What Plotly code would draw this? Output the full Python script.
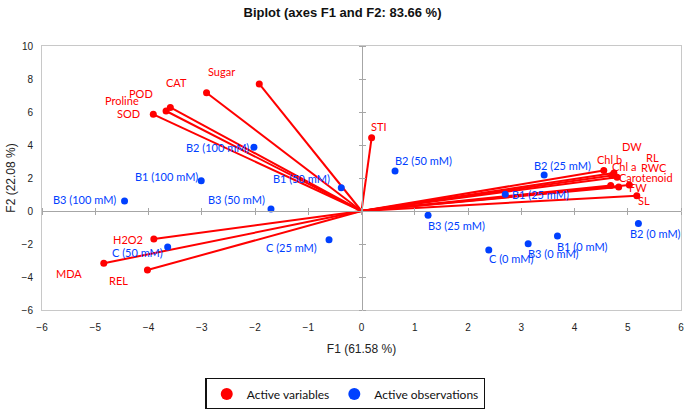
import plotly.graph_objects as go

# variables (loadings scaled to the biplot)
var_names = ["Sugar", "CAT", "POD", "Proline", "SOD", "STI", "H2O2", "MDA", "REL",
             "DW", "Chl b", "Chl a", "RL", "RWC", "Carotenoid", "FW", "SL"]
var_f1 = [-1.92, -2.91, -3.59, -3.67, -3.91, 0.19, -3.90, -4.84, -4.02,
          4.80, 4.55, 4.74, 4.70, 4.68, 4.83, 5.03, 5.17]
var_f2 = [7.70, 7.17, 6.28, 6.06, 5.86, 4.44, -1.70, -3.17, -3.58,
          2.05, 2.46, 2.30, 2.15, 1.54, 1.45, 1.57, 0.93]

# observations
obs_names = ["B1 (100 mM)", "B2 (100 mM)", "B3 (100 mM)", "B1 (50 mM)", "B2 (50 mM)",
             "B3 (50 mM)", "C (50 mM)", "B1 (25 mM)", "B2 (25 mM)", "B3 (25 mM)",
             "C (25 mM)", "B1 (0 mM)", "B2 (0 mM)", "B3 (0 mM)", "C (0 mM)"]
obs_f1 = [-3.01, -2.02, -4.45, -0.38, 0.63, -1.70, -3.64, 2.70, 3.43, 1.25,
          -0.61, 3.68, 5.20, 3.13, 2.39]
obs_f2 = [1.84, 3.86, 0.61, 1.41, 2.42, 0.12, -2.18, 1.01, 2.18, -0.26,
          -1.74, -1.52, -0.75, -1.98, -2.36]

# label placement (pixel offsets: right, down)
var_offsets = {
    "Sugar": (-38, -12), "CAT": (-30, -10), "POD": (-29, -14), "Proline": (-44, -11),
    "SOD": (-25, -1), "STI": (7, -11), "H2O2": (-26, 0), "MDA": (-35, 10),
    "REL": (-29, 10), "DW": (15, -31), "Chl b": (6, -11), "Chl a": (10, -7),
    "RL": (41, -18), "RWC": (43, -18), "Carotenoid": (27, -10), "FW": (9, 2),
    "SL": (7, 5),
}
obs_offsets = {
    "B1 (100 mM)": (-35, -4), "B2 (100 mM)": (-36, 0), "B3 (100 mM)": (-40, -1),
    "B1 (50 mM)": (-40, -9), "B2 (50 mM)": (28, -11), "B3 (50 mM)": (-34, -10),
    "C (50 mM)": (-30, 6), "B1 (25 mM)": (35, 0), "B2 (25 mM)": (18, -10),
    "B3 (25 mM)": (28, 10), "C (25 mM)": (-38, 8), "B1 (0 mM)": (25, 10),
    "B2 (0 mM)": (17, 10), "B3 (0 mM)": (25, 10), "C (0 mM)": (22, 9),
}

RED = "#ff0000"
BLUE = "#0040ff"
LABEL_FONT = "Lato, Carlito, 'Open Sans', sans-serif"
AXIS_FONT = "'Liberation Sans Narrow', 'Liberation Sans', Arial, sans-serif"

fig = go.Figure()

# vectors from origin
line_x, line_y = [], []
for x, y in zip(var_f1, var_f2):
    line_x += [0, x, None]
    line_y += [0, y, None]
fig.add_trace(go.Scatter(x=line_x, y=line_y, mode="lines",
                         line=dict(color=RED, width=2),
                         showlegend=False, hoverinfo="skip"))
fig.add_trace(go.Scatter(x=var_f1, y=var_f2, mode="markers", text=var_names,
                         marker=dict(color=RED, size=7), showlegend=False))
fig.add_trace(go.Scatter(x=obs_f1, y=obs_f2, mode="markers", text=obs_names,
                         marker=dict(color=BLUE, size=7), showlegend=False))

# legend entries
fig.add_trace(go.Scatter(x=[None], y=[None], mode="markers", name="Active variables",
                         marker=dict(color=RED, size=12)))
fig.add_trace(go.Scatter(x=[None], y=[None], mode="markers", name="Active observations",
                         marker=dict(color=BLUE, size=12)))

# empty traces so the zero-line axes get drawn
for xa, ya in [("x2", "y"), ("x3", "y"), ("x", "y2"), ("x", "y3")]:
    fig.add_trace(go.Scatter(x=[None], y=[None], xaxis=xa, yaxis=ya,
                             showlegend=False, hoverinfo="skip"))

for name, x, y in zip(var_names, var_f1, var_f2):
    dx, dy = var_offsets[name]
    fig.add_annotation(x=x, y=y, text=name, showarrow=False, xshift=dx, yshift=-dy,
                       font=dict(family=LABEL_FONT, size=11, color=RED))
for name, x, y in zip(obs_names, obs_f1, obs_f2):
    dx, dy = obs_offsets[name]
    fig.add_annotation(x=x, y=y, text=name, showarrow=False, xshift=dx, yshift=-dy,
                       font=dict(family=LABEL_FONT, size=11, color=BLUE))

frame = dict(showgrid=False, zeroline=False, showline=True, mirror=True,
             linecolor="#c8c8c8", linewidth=1, ticks="", automargin=False,
             tickfont=dict(family=AXIS_FONT, size=10, color="#222"))
zero_axis = dict(showgrid=False, zeroline=False, showline=True, linecolor="#a6a6a6",
                 linewidth=1, ticks="outside", ticklen=3, tickcolor="#a6a6a6",
                 showticklabels=False, anchor="free", automargin=False)

fig.update_layout(
    width=685, height=409,
    margin=dict(l=42, r=4, t=46, b=99),
    plot_bgcolor="white", paper_bgcolor="white",
    title=dict(text="<b>Biplot (axes F1 and F2: 83.66 %)</b>", x=0.5, xref="container",
               y=0.97, yref="container", yanchor="middle", xanchor="center",
               font=dict(family="'Liberation Sans', Arial, sans-serif", size=13, color="#111")),
    xaxis=dict(range=[-6, 6], dtick=1, ticklabelstandoff=8,
               title=dict(text="F1 (61.58 %)", standoff=12,
                          font=dict(family=AXIS_FONT, size=12, color="#222")),
               **frame),
    yaxis=dict(range=[-6, 10], dtick=2, ticklabelstandoff=6,
               title=dict(text="F2 (22.08 %)", standoff=3,
                          font=dict(family=AXIS_FONT, size=12, color="#222")),
               **frame),
    xaxis2=dict(overlaying="x", range=[-6, 6], dtick=1, position=0.375, side="bottom", **zero_axis),
    xaxis3=dict(overlaying="x", range=[-6, 6], dtick=1, position=0.375, side="top", **zero_axis),
    yaxis2=dict(overlaying="y", range=[-6, 10], dtick=2, position=0.5, side="left", **zero_axis),
    yaxis3=dict(overlaying="y", range=[-6, 10], dtick=2, position=0.5, side="right", **zero_axis),
    legend=dict(orientation="h", xref="container", yref="container", x=0.504, y=0.076,
                xanchor="center", yanchor="top", bordercolor="#111", borderwidth=1.5,
                font=dict(family=LABEL_FONT, size=12, color="#111"),
                itemsizing="constant", tracegroupgap=0),
)

# drop the browser's default body margin so the figure sits at the page corner
fig.write_html("out.html", config={"displayModeBar": False},
               post_script="document.body.style.margin='0';")
